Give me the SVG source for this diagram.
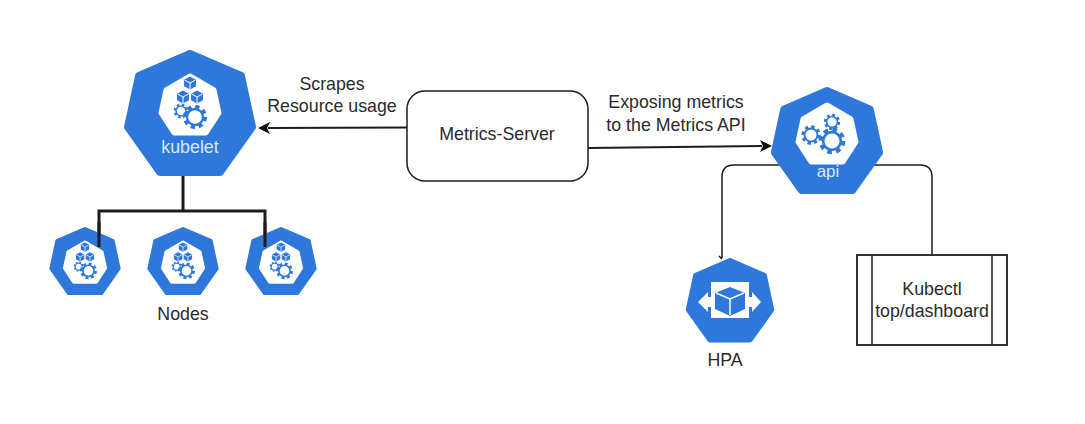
<svg xmlns="http://www.w3.org/2000/svg" xmlns:xlink="http://www.w3.org/1999/xlink" width="1085" height="424" viewBox="0 0 1085 424">
<style>
.t{font-family:"Liberation Sans",Arial,sans-serif;font-size:17.8px;fill:#2a2a2a;text-anchor:middle}
.w{font-family:"Liberation Sans",Arial,sans-serif;fill:#dbe8fa;text-anchor:middle}
.b{fill:#2f78db}
.line{fill:none;stroke:#1c1c1c}
.box{fill:#fff;stroke:#1c1c1c}
</style>
<defs>
<path id="hept" class="b" stroke="#2f78db" stroke-width="8" stroke-linejoin="round" d="M0 4 51 26 62 77 30 122H-30L-62 77-51 26Z"/>
<path id="inner" fill="#fff" stroke="#fff" stroke-width="5" stroke-linejoin="round" d="M0 26 24 40 29 63 16 83H-16L-29 63-24 40Z"/>
<g id="cube"><path class="b" d="M0-6.500 6-3.300V3.300L0 6.500-6 3.300V-3.300Z"/><path d="M-5.500-3 0 0 5.500-3M0 0V6" fill="none" stroke="#fff" stroke-width="1"/></g>
<g id="gear"><circle r="8.500" fill="none" stroke="#2f78db" stroke-width="3.500" stroke-dasharray="3.500 3.170"/><circle r="6.800" fill="#fff" stroke="#2f78db" stroke-width="2"/></g>
<g id="nodeicon">
<use href="#inner"/>
<use href="#cube" x="0" y="33"/><use href="#cube" x="-7" y="47"/><use href="#cube" x="7" y="47"/>
<use href="#gear" transform="translate(-9 61) scale(.72)"/><use href="#gear" transform="translate(5 67) scale(1.180)"/>
</g>
</defs>
<rect width="1085" height="424" fill="#fff"/>
<g id="connectors">
<path class="line" stroke-width="3" d="M183 176V211M99 247V211H265V247"/>
<path class="line" stroke-width="1.800" d="M407 127.500 268 128"/>
<path d="M258 128 270 122 267 128 270 134Z" fill="#111"/>
<path class="line" stroke-width="1.800" d="M588 148 762 146"/>
<path d="M772 146 760 152 763 146 760 140Z" fill="#111"/>
<path class="line" stroke-width="1.500" d="M782 165H734Q722 165 722 177V258M719 256 722 259"/>
<path class="line" stroke-width="1.500" d="M872 165H920Q932 165 932 177V255"/>
</g>
<g id="node-kubelet">
<use href="#hept" transform="translate(190 50)"/>
<use href="#nodeicon" transform="translate(190 50)"/>
<text class="w" x="190" y="153" font-size="17.800">kubelet</text>
</g>
<g id="node-n1"><use href="#hept" transform="translate(85 227) scale(.54)"/><use href="#nodeicon" transform="translate(85 224) scale(.7)"/></g>
<g id="node-n2"><use href="#hept" transform="translate(183 227) scale(.54)"/><use href="#nodeicon" transform="translate(183 224) scale(.7)"/></g>
<g id="node-n3"><use href="#hept" transform="translate(281 227) scale(.54)"/><use href="#nodeicon" transform="translate(281 224) scale(.7)"/></g>
<path class="line" stroke-width="3" d="M99 222V247M265 222V247"/>
<g id="label-nodes"><text class="t" x="183" y="320">Nodes</text></g>
<g id="label-scrapes"><text class="t" x="332" y="90">Scrapes</text><text class="t" x="332" y="112">Resource usage</text></g>
<g id="node-metrics-server">
<rect class="box" x="407" y="91" width="181" height="90" rx="18" stroke-width="1.500"/>
<text class="t" x="497" y="140">Metrics-Server</text>
</g>
<g id="label-exposing"><text class="t" x="676" y="108">Exposing metrics</text><text class="t" x="676" y="131">to the Metrics API</text></g>
<g id="node-api">
<use href="#hept" transform="translate(827 87) scale(.85)"/>
<use href="#inner" transform="translate(827 79)"/>
<use href="#gear" transform="translate(811 135) scale(.95)"/>
<use href="#gear" transform="translate(832 122) scale(.8)"/>
<use href="#gear" transform="translate(832 141) scale(1.300)"/>
<text class="w" x="828" y="177" font-size="17">api</text>
</g>
<g id="node-hpa">
<use href="#hept" transform="translate(730 258) scale(.67)"/>
<rect x="711" y="282" width="38" height="36" fill="#fff"/>
<path d="M698 302 708 292V297H752V292L761 302 752 312V307H708V312Z" fill="#fff"/>
<path class="b" d="M730 287 745 293V309L730 316 715 309V293Z"/>
<path d="M716 293 730 299 744 293M730 299V315" fill="none" stroke="#fff" stroke-width="1.500"/>
<text class="t" x="725" y="366">HPA</text>
</g>
<g id="node-kubectl">
<rect class="box" x="857" y="255" width="150" height="90" stroke-width="1.800"/>
<path class="line" stroke-width="1.500" d="M872 255V345M992 255V345"/>
<text class="t" x="932" y="295">Kubectl</text>
<text class="t" x="932" y="317">top/dashboard</text>
</g>
</svg>
